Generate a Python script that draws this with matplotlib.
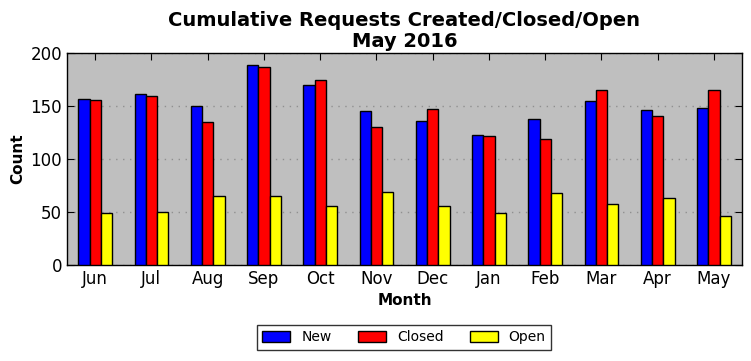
import matplotlib
matplotlib.use("Agg")
import matplotlib.pyplot as plt
import numpy as np

months = ["Jun", "Jul", "Aug", "Sep", "Oct", "Nov", "Dec", "Jan", "Feb", "Mar", "Apr", "May"]
new_vals = [157, 161, 150, 189, 170, 145, 136, 123, 138, 155, 146, 148]
closed_vals = [156, 159, 135, 187, 175, 130, 147, 122, 119, 165, 141, 165]
open_vals = [49, 50, 65, 65, 56, 69, 56, 49, 68, 58, 63, 46]

fig = plt.figure(figsize=(7.51, 3.61), dpi=100)
ax = fig.add_axes([67/751, 1 - 265/361, (742-67)/751, (265-53)/361])
ax.set_facecolor("#bfbfbf")

x = np.arange(len(months))
w = 0.2
ax.bar(x - w, new_vals, w, color="blue", edgecolor="black", linewidth=1, label="New", zorder=3)
ax.bar(x, closed_vals, w, color="red", edgecolor="black", linewidth=1, label="Closed", zorder=3)
ax.bar(x + w, open_vals, w, color="yellow", edgecolor="black", linewidth=1, label="Open", zorder=3)

ax.set_xlim(-0.5, len(months) - 0.5)
ax.set_ylim(0, 200)
ax.set_xticks(x)
ax.set_xticklabels(months, fontsize=12)
ax.set_yticks([0, 50, 100, 150, 200])
ax.tick_params(axis="y", labelsize=12)
ax.tick_params(direction="in", top=True, right=True, length=5, color="black")
ax.yaxis.grid(True, linestyle=(0, (1, 4)), color="#909090", linewidth=1, zorder=0)
ax.set_axisbelow(True)
for s in ax.spines.values():
    s.set_linewidth(1)

ax.set_xlabel("Month", fontsize=11, fontweight="bold")
ax.set_ylabel("Count", fontsize=11, fontweight="bold")
ax.set_title("Cumulative Requests Created/Closed/Open\nMay 2016", fontsize=14, fontweight="bold",
             linespacing=1.15, pad=4)

leg = fig.legend(loc="lower center", bbox_to_anchor=(404/751, 11/361), ncol=3, fontsize=10,
                 frameon=True, fancybox=False, edgecolor="black", handlelength=2.0,
                 handleheight=0.8, columnspacing=1.9, borderpad=0.4, borderaxespad=0)
leg.get_frame().set_linewidth(1)

fig.savefig("out.png", dpi=100)
